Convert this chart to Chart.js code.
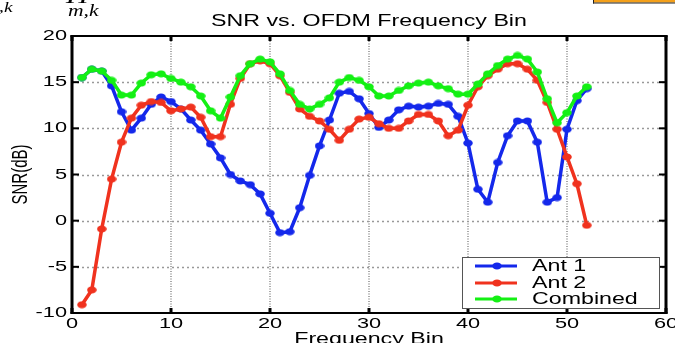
<!DOCTYPE html>
<html><head><meta charset="utf-8">
<script src="https://cdn.jsdelivr.net/npm/chart.js@4"></script>
<style>html,body{margin:0;padding:0;background:#fff;overflow:hidden}#wrap{position:relative;width:675px;height:343px}</style>
</head><body><div id="wrap"><canvas id="c" width="675" height="343"></canvas></div>
<script>
// ---- data ----
const bins = [1,2,3,4,5,6,7,8,9,10,11,12,13,14,15,16,17,18,19,20,21,22,23,24,25,26,27,28,29,30,31,32,33,34,35,36,37,38,39,40,41,42,43,44,45,46,47,48,49,50,51,52];
const ant1 = [15.5,16.4,16.2,14.6,11.8,9.8,11.1,12.6,13.4,12.9,12.1,10.9,9.8,8.3,6.8,5.0,4.3,3.9,2.9,0.8,-1.3,-1.2,1.4,4.9,8.1,10.9,13.8,14.0,13.2,11.6,10.1,10.9,12.0,12.4,12.3,12.4,12.7,12.6,11.3,8.4,3.4,2.0,6.3,9.2,10.8,10.8,8.5,2.0,2.5,9.9,13.0,14.3];
const ant2 = [-9.1,-7.5,-0.9,4.5,8.5,11.1,12.5,12.9,12.8,11.9,12.1,12.3,11.2,9.1,9.1,12.6,15.4,17.0,17.3,17.0,15.7,13.9,12.1,11.3,10.8,9.9,8.7,9.9,11.0,11.2,10.5,10.0,10.0,10.8,11.5,11.5,10.8,9.2,9.8,12.5,14.5,15.7,16.4,17.0,17.0,16.4,15.2,12.8,9.9,6.9,4.0,-0.5];
const combined = [15.5,16.4,16.2,15.2,13.6,13.6,14.9,15.8,15.9,15.4,15.0,14.5,13.5,11.9,11.1,13.4,15.7,17.0,17.5,17.2,15.9,14.1,12.6,12.1,12.6,13.3,15.0,15.5,15.2,14.5,13.5,13.5,14.1,14.6,14.9,15.0,14.6,14.3,13.7,13.7,14.8,15.9,16.8,17.5,17.9,17.5,16.1,13.2,10.6,11.7,13.5,14.5];
const xTicks = [0,10,20,30,40,50,60];
const yTicks = [-10,-5,0,5,10,15,20];
const seriesNames = ['Ant 1','Ant 2','Combined'];
const titleText = 'SNR vs. OFDM Frequency Bin';
const xLabelText = 'Frequency Bin';
const yLabelText = 'SNR(dB)';

// ---- style ----
const COLORS = ['#1428EB','#F0321E','#14F014'];
const FONT = "'Liberation Sans', Arial, Helvetica, sans-serif";
const SERIF = "'Liberation Serif', 'Times New Roman', serif";
const SX = 1.45;

function marker(color){
  const c = document.createElement('canvas');
  c.width = 10; c.height = 8;
  const g = c.getContext('2d');
  g.fillStyle = color;
  g.beginPath(); g.ellipse(5,4,4.8,3.5,0,0,Math.PI*2); g.fill();
  return c;
}
const MARKERS = COLORS.map(marker);

function txt(ctx, s, x, y, size, align, base, opt){
  opt = opt || {};
  ctx.save();
  ctx.translate(x,y);
  ctx.scale(opt.sx || SX, 1);
  if (opt.rot) ctx.rotate(-Math.PI/2);
  ctx.font = (opt.style ? opt.style+' ' : '') + size + 'px ' + (opt.family || FONT);
  ctx.fillStyle = opt.color || '#000';
  ctx.textAlign = align; ctx.textBaseline = base;
  ctx.fillText(s,0,0);
  ctx.restore();
}

const deco = {
  id:'deco',
  beforeDatasetsDraw(chart){
    const {ctx, chartArea:a, scales:{x,y}} = chart;
    ctx.save();
    // vertical grid
    ctx.strokeStyle = '#a8a8a8'; ctx.lineWidth = 2; ctx.setLineDash([1,1.5]);
    xTicks.forEach(v=>{ if(v===xTicks[0]||v===xTicks[xTicks.length-1]) return;
      const px = Math.round(x.getPixelForValue(v));
      ctx.beginPath(); ctx.moveTo(px,a.top); ctx.lineTo(px,a.bottom); ctx.stroke(); });
    // horizontal grid
    ctx.strokeStyle = '#999'; ctx.lineWidth = 1.3; ctx.setLineDash([2,3]);
    yTicks.forEach(v=>{ if(v===yTicks[0]||v===yTicks[yTicks.length-1]) return;
      const py = Math.round(y.getPixelForValue(v))+0.5;
      ctx.beginPath(); ctx.moveTo(a.left,py); ctx.lineTo(a.right,py); ctx.stroke(); });
    ctx.restore();
  },
  afterDatasetsDraw(chart){
    const {ctx, chartArea:a, scales:{x,y}} = chart;
    ctx.save();
    ctx.fillStyle = '#000';
    // frame
    ctx.fillRect(a.left-1.5, a.top-1, 3, a.bottom-a.top+2);
    ctx.fillRect(a.right-1.5, a.top-1, 3, a.bottom-a.top+2);
    ctx.fillRect(a.left-1.5, a.top-1, a.right-a.left+3, 2);
    ctx.fillRect(a.left-1.5, a.bottom-1, a.right-a.left+3, 2);
    // inward ticks
    xTicks.forEach(v=>{ const px = x.getPixelForValue(v);
      ctx.fillRect(px-1.5, a.top, 3, 5); ctx.fillRect(px-1.5, a.bottom-5, 3, 5); });
    yTicks.forEach(v=>{ const py = y.getPixelForValue(v);
      ctx.fillRect(a.left, py-1, 7, 2); ctx.fillRect(a.right-7, py-1, 7, 2); });
    // tick labels
    xTicks.forEach(v=>{ txt(ctx, String(v), x.getPixelForValue(v), a.bottom+11, 15, 'center', 'middle'); });
    yTicks.forEach(v=>{ txt(ctx, String(v), a.left-5, y.getPixelForValue(v), 15, 'right', 'middle'); });
    // title and axis labels
    txt(ctx, titleText, (a.left+a.right)/2, 26, 16, 'center', 'alphabetic');
    txt(ctx, xLabelText, (a.left+a.right)/2, 344, 16, 'center', 'alphabetic');
    txt(ctx, yLabelText, 21, (a.top+a.bottom)/2, 15, 'center', 'middle', {rot:true});
    // legend
    const L = {x0:462, y0:257, x1:660, y1:309};
    ctx.fillStyle = '#fff'; ctx.fillRect(L.x0, L.y0, L.x1-L.x0, L.y1-L.y0);
    ctx.strokeStyle = '#555'; ctx.lineWidth = 1;
    ctx.strokeRect(L.x0+0.5, L.y0+0.5, L.x1-L.x0-1, L.y1-L.y0-1);
    const rows = [266, 283, 299];
    seriesNames.forEach((n,i)=>{
      ctx.strokeStyle = COLORS[i]; ctx.lineWidth = 3;
      ctx.beginPath(); ctx.moveTo(475, rows[i]); ctx.lineTo(517, rows[i]); ctx.stroke();
      const m = MARKERS[i]; ctx.drawImage(m, 497-m.width/2, rows[i]-m.height/2);
      txt(ctx, n, 532, rows[i]+0.5, 16, 'left', 'middle');
    });
    // cropped slide fragments at top
    txt(ctx, ',k', -1, 12, 15, 'left', 'alphabetic', {style:'italic', family:SERIF, sx:1.3});
    txt(ctx, 'm,k', 68, 16, 16, 'left', 'alphabetic', {style:'italic', family:SERIF, sx:1.35});
    txt(ctx, 'H', 66, 3, 24, 'left', 'alphabetic', {style:'italic', family:SERIF, sx:1.3});
    ctx.fillStyle = '#F4A01A'; ctx.fillRect(594, 0, 81, 2.5);
    ctx.fillStyle = '#222'; ctx.fillRect(593, 0, 1, 3.5); ctx.fillRect(593, 2.5, 82, 1);
    ctx.restore();
  }
};

const mk = (arr)=>bins.map((b,i)=>({x:b, y:arr[i]}));
const ds = (i, arr, order)=>({
  label: seriesNames[i], data: mk(arr), borderColor: COLORS[i], backgroundColor: COLORS[i],
  borderWidth: 3.5, pointStyle: MARKERS[i], pointRadius: 4, tension: 0, order: order,
  borderJoinStyle:'round', borderCapStyle:'round', clip: false
});

new Chart(document.getElementById('c'), {
  type: 'line',
  data: { datasets: [ ds(0, ant1, 2), ds(1, ant2, 1), ds(2, combined, 0) ] },
  options: {
    responsive: false, animation: false, events: [],
    layout: { padding: { top: 36, right: 9, left: 0, bottom: 0 } },
    plugins: { legend: { display: false }, title: { display: false }, tooltip: { enabled: false } },
    scales: {
      x: { type: 'linear', min: 0, max: 60, ticks: { display: false, stepSize: 10 }, grid: { display: false }, border: { display: false },
           afterFit: s => { s.height = 30; } },
      y: { type: 'linear', min: -10, max: 20, ticks: { display: false, stepSize: 5 }, grid: { display: false }, border: { display: false },
           afterFit: s => { s.width = 72; } }
    }
  },
  plugins: [deco]
});
</script>
</body></html>
